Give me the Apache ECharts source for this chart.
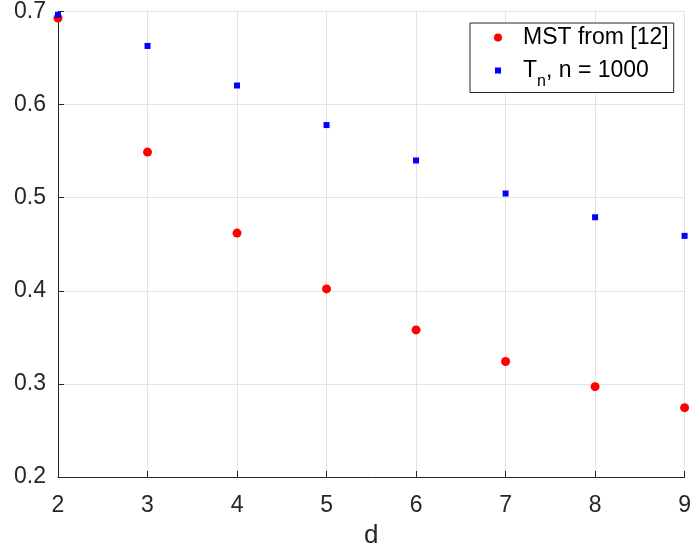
<!DOCTYPE html>
<html><head><meta charset="utf-8">
<script src="https://cdn.jsdelivr.net/npm/echarts@6/dist/echarts.min.js"></script>
<style>html,body{margin:0;padding:0;background:#fff}#c{width:694px;height:554px}</style>
</head><body><div id="c"></div>
<script>
const dValues = [2, 3, 4, 5, 6, 7, 8, 9];
const mstValues = [0.693, 0.549, 0.462, 0.402, 0.358, 0.324, 0.297, 0.2745];
const tnValues = [0.6965, 0.663, 0.6205, 0.578, 0.540, 0.5045, 0.479, 0.459];
const mstName = 'MST from [12]';
const tnName = 'T_n, n = 1000';

const chart = echarts.init(document.getElementById('c'), null, {renderer: 'canvas'});
const font = 'Liberation Sans, Arial, Helvetica, sans-serif';
const axisColor = '#262626';
chart.setOption({
  animation: false,
  backgroundColor: '#fff',
  grid: {left: 58, right: 8, top: 10, bottom: 73, containLabel: false},
  legend: {
    left: 470, top: 23,
    orient: 'vertical',
    backgroundColor: '#fff',
    borderColor: axisColor,
    borderWidth: 1,
    borderRadius: 0,
    padding: [3, 5, 3, 23],
    itemGap: 10,
    itemWidth: 8,
    itemHeight: 8,
    data: [
      {name: mstName, icon: 'circle', itemStyle: {color: '#ff0000'}},
      {name: tnName, icon: 'rect', itemStyle: {color: '#0000ff', borderColor: '#fff', borderWidth: 2}}
    ],
    formatter: function (name) {
      if (name === tnName) return '{a|T}{sub|n}{a|, n = 1000}';
      return '{a|' + name + '}';
    },
    textStyle: {
      fontFamily: font, fontSize: 23, color: '#000', padding: [0, 0, 0, 16],
      rich: {
        a: {fontFamily: font, fontSize: 23, color: '#000', height: 23, verticalAlign: 'middle'},
        sub: {fontFamily: font, fontSize: 16, color: '#000', height: 23, verticalAlign: 'middle', padding: [22, 0, 0, 0]}
      }
    }
  },
  xAxis: {
    type: 'value', min: 2, max: 9, interval: 1,
    name: 'd', nameLocation: 'middle', nameGap: 46,
    nameTextStyle: {fontFamily: font, fontSize: 26, color: axisColor},
    axisLine: {show: true, onZero: false, lineStyle: {color: axisColor, width: 1}},
    axisTick: {show: true, inside: true, length: 6, lineStyle: {color: axisColor}},
    axisLabel: {fontFamily: font, fontSize: 23, color: axisColor, margin: 17, showMinLabel: true, showMaxLabel: true},
    splitLine: {show: true, lineStyle: {color: '#e3e3e3', width: 1}}
  },
  yAxis: {
    type: 'value', min: 0.2, max: 0.7, interval: 0.1,
    axisLine: {show: true, onZero: false, lineStyle: {color: axisColor, width: 1}},
    axisTick: {show: true, inside: true, length: 6, lineStyle: {color: axisColor}},
    axisLabel: {fontFamily: font, fontSize: 23, color: axisColor, margin: 12,
      formatter: v => v.toFixed(1), showMinLabel: true, showMaxLabel: true},
    splitLine: {show: true, lineStyle: {color: '#e3e3e3', width: 1}}
  },
  series: [
    {name: mstName, type: 'scatter', symbol: 'circle', symbolSize: 9,
     itemStyle: {color: '#ff0000', opacity: 1}, clip: false, z: 3,
     data: dValues.map((d, i) => [d, mstValues[i]])},
    {name: tnName, type: 'scatter', symbol: 'rect', symbolSize: 6,
     itemStyle: {color: '#0000ff', opacity: 1}, clip: false, z: 4,
     data: dValues.map((d, i) => [d, tnValues[i]])}
  ]
});
</script></body></html>
